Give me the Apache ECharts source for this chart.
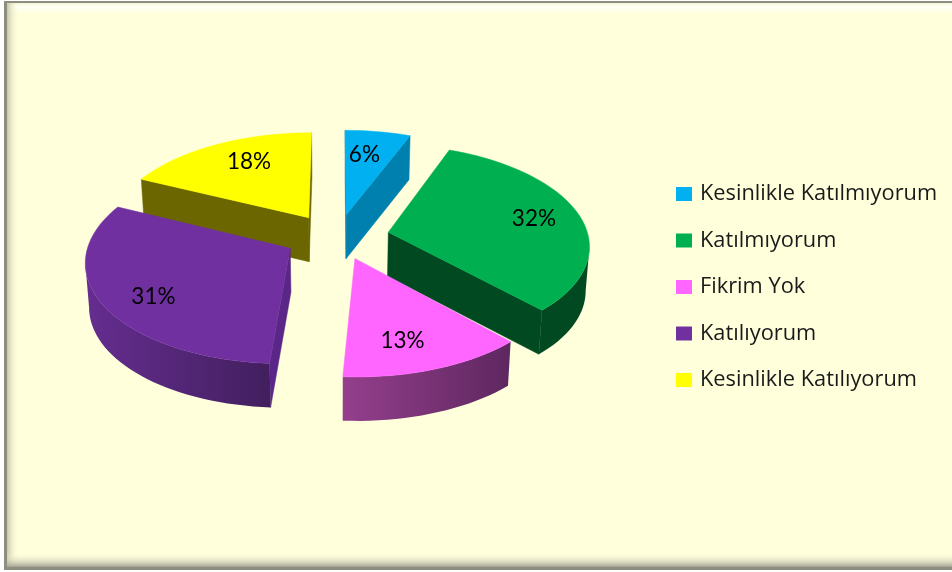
<!DOCTYPE html>
<html><head><meta charset="utf-8">
<style>html,body{margin:0;padding:0;background:#fff}#c{width:952px;height:572px}</style>
<script src="https://cdn.jsdelivr.net/npm/echarts@6/dist/echarts.min.js"></script>
</head><body><div id="c"></div>
<script>
const categories = ['Kesinlikle Katılmıyorum','Katılmıyorum','Fikrim Yok','Katılıyorum','Kesinlikle Katılıyorum'];
const values = [6,32,13,31,18];
const topColors = ['#00B0F0','#00B050','#FF66FF','#7030A0','#FFFF00'];
const radialWall = ['#0080AF','#014A21','#612862','#5A2687','#6B6600'];
const arcWallLeft = ['#0080AF','#014A21','#943F8C','#652D90','#6B6600'];
const arcWallRight = ['#0080AF','#014A21','#5E2760','#421F5E','#6B6600'];
const labelRadius = [.7,.76,.75,.77,.72];
const labelAngle = [8.6,79.6,164.2,234.5,332];
const stackOrder = [2,3,5,4,2];

// projection of the tilted pie plane
const P = {x0:336.5,y0:236.5,A:200,B:99,p:.117,explodeX:.265,explodeY:.23,depth:44,baseShrink:.985};
const total = values.reduce((a,b)=>a+b,0);
function project(u,v,low){
  const s = 1/(1-P.p*v);
  return [P.x0+P.A*u*s*(low?P.baseShrink:1), P.y0+P.B*v*s+(low?P.depth:0)];
}
function sliceModel(i){
  const before = values.slice(0,i).reduce((a,b)=>a+b,0);
  const a0 = before/total*2*Math.PI, a1=(before+values[i])/total*2*Math.PI, mid=(a0+a1)/2;
  const ox = P.explodeX*Math.sin(mid), oy=-P.explodeY*Math.cos(mid);
  const at=(r,t)=>[ox+r*Math.sin(t), oy-r*Math.cos(t)];
  const steps = Math.max(8,Math.round(values[i]*1.6));
  const outer=[]; for(let k=0;k<=steps;k++) outer.push(at(1,a0+(a1-a0)*k/steps));
  return {apex:[ox,oy],outer,label:at(labelRadius[i],labelAngle[i]*Math.PI/180)};
}
function renderSlice(params,api){
  const i = api.value(0);
  const m = sliceModel(i);
  const ring = [m.apex,...m.outer];
  const top = ring.map(q=>project(q[0],q[1],false));
  const low = ring.map(q=>project(q[0],q[1],true));
  const children=[];
  const quad=(a,b)=>[top[a],top[b],low[b],low[a]];
  const n=ring.length;
  // radial walls facing the viewer
  [[0,1],[n-1,0]].forEach(([a,b])=>{
    if(top[b][0]<top[a][0]) children.push({type:'polygon',shape:{points:quad(a,b)},style:{fill:radialWall[i],stroke:radialWall[i],lineWidth:.5}});
  });
  // outer wall, front part only
  const front=[]; for(let k=1;k<n-1;k++) if(top[k+1][0]<top[k][0]) front.push(k);
  if(front.length){
    const idx=[...front,front[front.length-1]+1];
    const pts=[...idx.map(k=>top[k]),...idx.slice().reverse().map(k=>low[k])];
    children.push({type:'polygon',shape:{points:pts},style:{
      fill:{type:'linear',x:0,y:0,x2:1,y2:0,colorStops:[{offset:0,color:arcWallLeft[i]},{offset:1,color:arcWallRight[i]}]}}});
  }
  children.push({type:'polygon',shape:{points:top},style:{fill:topColors[i],stroke:topColors[i],lineWidth:.5}});
  const lp=project(m.label[0],m.label[1],false);
  children.push({type:'text',x:lp[0],y:lp[1],z2:50,style:{text:values[i]+'%',fill:'#000',
    font:'22.5px Lato',align:'center',verticalAlign:'middle'}});
  return {type:'group',children};
}
const chart = echarts.init(document.getElementById('c'),null,{renderer:'canvas'});
const cream='#FFFFDC';
chart.setOption({
  animation:false,
  backgroundColor:'#fff',
  graphic:[
    {type:'rect',z:-10,silent:true,shape:{x:4,y:1,width:948,height:569},style:{fill:'#8E8E80'}},
    {type:'rect',z:-9,silent:true,shape:{x:7,y:3,width:945,height:564},style:{fill:cream}},
    {type:'rect',z:-8,silent:true,shape:{x:7,y:3,width:945,height:11},style:{fill:{type:'linear',x:0,y:0,x2:0,y2:1,colorStops:[{offset:0,color:'#F4F4D8'},{offset:.3,color:'#FFFFF4'},{offset:1,color:cream}]}}},
    {type:'rect',z:-8,silent:true,shape:{x:7,y:3,width:12,height:564},style:{fill:{type:'linear',x:0,y:0,x2:1,y2:0,colorStops:[{offset:0,color:'#C9C9AB'},{offset:1,color:'rgba(255,255,220,0)'}]}}},
    {type:'rect',z:-8,silent:true,shape:{x:7,y:553,width:945,height:14},style:{fill:{type:'linear',x:0,y:0,x2:0,y2:1,colorStops:[{offset:0,color:'rgba(255,255,220,0)'},{offset:1,color:'#A3A393'}]}}}
  ],
  legend:{
    orient:'vertical',left:676,top:181,padding:0,itemWidth:16,itemHeight:14,itemGap:20.5,icon:'rect',
    data:categories,selectedMode:false,
    textStyle:{fontFamily:'Open Sans',fontSize:21.8,color:'#1a1a1a',padding:[0,0,0,3],lineHeight:26}
  },
  series:categories.map((name,i)=>({
    type:'custom',name,coordinateSystem:'none',silent:true,z:stackOrder[i],
    itemStyle:{color:topColors[i]},
    renderItem:renderSlice,
    data:[[i,values[i]]],
    encode:{}
  }))
});
</script></body></html>
